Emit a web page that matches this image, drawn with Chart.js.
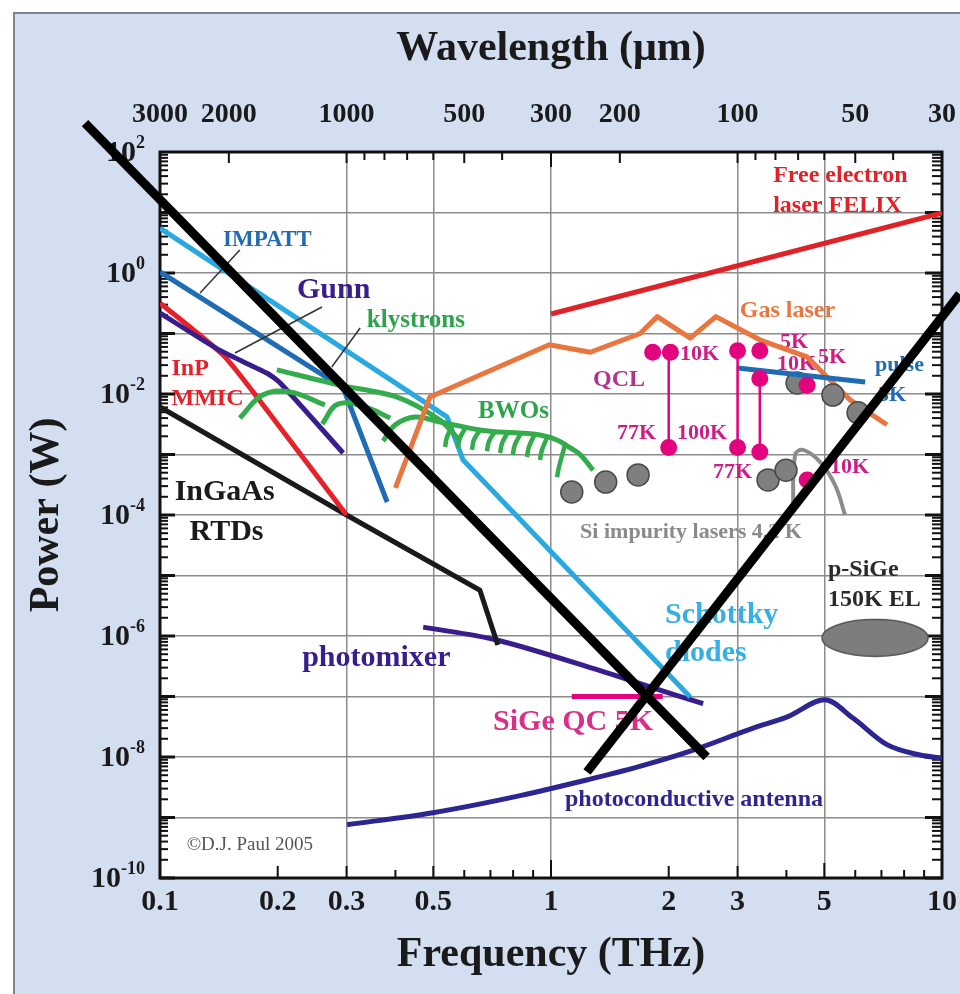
<!DOCTYPE html>
<html>
<head>
<meta charset="utf-8">
<script src="https://cdn.jsdelivr.net/npm/chart.js@4.4.0/dist/chart.umd.min.js"></script>
<style>
  html, body { margin: 0; padding: 0; background: #fff; }
  #wrap { width: 960px; height: 994px; }
</style>
</head>
<body>
<div id="wrap"><canvas id="thz" width="960" height="994"></canvas></div>
<script>
// frequency in THz, power in W
const freqTicks = [0.1, 0.2, 0.3, 0.5, 1, 2, 3, 5, 10];
const freqGrid = [0.3, 0.5, 1, 3, 5];
const waveTicks = [3000, 2000, 1000, 500, 300, 200, 100, 50, 30];
const waveMinor = [900, 800, 700, 600, 400, 90, 80, 70, 60, 40];
const powerDecades = [2, 1, 0, -1, -2, -3, -4, -5, -6, -7, -8, -9, -10];
const powerLabels = [2, 0, -2, -4, -6, -8, -10];

const schottkyF = [0.1, 0.542, 0.596, 2.27];
const schottkyP = [5.5, 0.0042, 8.1e-4, 9.8e-8];
const impattF = [0.1, 0.294, 0.381];
const impattP = [1.04, 0.0126, 1.64e-4];
const gunnF = [0.1, 0.142, 0.188, 0.203, 0.294];
const gunnP = [0.218, 0.053, 0.022, 0.0152, 1.06e-3];
const mmicF = [0.1, 0.145, 0.177, 0.3];
const mmicP = [0.32, 0.044, 0.0089, 1.0e-4];
const rtdF = [0.1, 0.3, 0.658, 0.731];
const rtdP = [0.0061, 1.0e-4, 5.7e-6, 7.1e-7];
const klystronF = [0.199, 0.289, 0.404, 0.52, 0.585];
const klystronP = [0.025, 0.014, 0.0089, 0.0037, 0.0017];

const bwoArcF = [
  [0.160, 0.183, 0.215, 0.264],
  [0.260, 0.285, 0.334, 0.388],
  [0.372, 0.399, 0.449, 0.520, 0.578, 0.658, 0.741, 0.833, 0.937, 1.036, 1.118, 1.187, 1.281]
];
const bwoArcP = [
  [0.0040, 0.0096, 0.0108, 0.0066],
  [0.0032, 0.0068, 0.0061, 0.0040],
  [0.00167, 0.00307, 0.00417, 0.00344, 0.0030, 0.00254, 0.00235, 0.00227, 0.0021, 0.00174, 0.0013, 0.0010, 0.00055]
];
const bwoHookF = [
  [0.536, 0.542, 0.562], [0.578, 0.585, 0.606], [0.628, 0.635, 0.658],
  [0.686, 0.694, 0.719], [0.741, 0.750, 0.777], [0.799, 0.808, 0.838],
  [0.868, 0.878, 0.910], [0.937, 0.948, 0.982], [1.036, 1.048, 1.086]
];
const bwoHookP = [
  [0.00133, 0.00195, 0.0031], [0.00128, 0.00188, 0.00285], [0.00119, 0.00174, 0.00254],
  [0.00113, 0.00165, 0.0024], [0.00106, 0.00155, 0.00235], [0.00098, 0.00144, 0.00227],
  [0.00091, 0.00133, 0.0022], [0.00081, 0.00119, 0.00205], [0.00042, 0.00062, 0.00144]
];

const gasF = [0.40, 0.49, 0.99, 1.26, 1.69, 1.87, 2.27, 2.64, 3.43, 4.52, 4.97, 5.82, 7.23];
const gasP = [2.8e-4, 8.9e-3, 0.065, 0.049, 0.10, 0.19, 0.084, 0.19, 0.078, 0.041, 0.022, 0.008, 0.0031];
const felixF = [1, 10];
const felixP = [0.21, 9.8];

const qclF = [1.82, 2.02, 2.0, 3.0, 3.0, 3.42, 3.42, 3.42, 4.52, 4.52];
const qclP = [0.049, 0.049, 0.0013, 0.052, 0.0013, 0.052, 0.018, 0.0011, 0.014, 3.8e-4];
const qclBarF = [2.0, 3.0, 3.42];
const qclBarTop = [0.049, 0.052, 0.018];
const qclBarBottom = [0.0013, 0.0013, 0.0011];
const pulseF = [3.0, 6.36];
const pulseP = [0.027, 0.0158];

const siDotF = [1.13, 1.38, 1.67, 3.59, 3.99, 4.26, 5.26, 6.10];
const siDotP = [2.4e-4, 3.5e-4, 4.6e-4, 3.8e-4, 5.5e-4, 0.0152, 0.0096, 0.0049];
const siArcF = [4.16, 4.21, 4.41, 4.88, 5.33, 5.65];
const siArcP = [1.08e-4, 9.8e-4, 1.19e-3, 7.5e-4, 3.1e-4, 1.0e-4];
const psigeF = [6.74];
const psigeP = [9.3e-7];

const photomixerF = [0.471, 0.727, 1.33, 1.79, 2.45];
const photomixerP = [1.4e-6, 8.6e-7, 2.7e-7, 1.44e-7, 7.6e-8];
const sigeQcF = [1.13, 1.93];
const sigeQcP = [1e-7, 1e-7];
const antennaF = [0.301, 0.499, 0.834, 1.24, 1.66, 2.23, 3.29, 4.02, 5.02, 5.92, 7.23, 8.78, 10];
const antennaP = [7.6e-10, 1.2e-9, 2.3e-9, 4.2e-9, 6.8e-9, 1.2e-8, 3.0e-8, 4.6e-8, 8.8e-8, 4.4e-8, 1.6e-8, 1.08e-8, 9.6e-9];

const pointerF = [[0.160, 0.1266], [0.2596, 0.1555], [0.325, 0.275]];
const pointerP = [[2.4, 0.467], [0.274, 0.0476], [0.123, 0.028]];
const crossF = [[0.0643, 2.5], [1.236, 11.1]];
const crossP = [[301, 1e-8], [5.65e-9, 0.45]];

const SERIF = "'Liberation Serif', 'Times New Roman', serif";

// text annotations, placed in data coordinates
const notes = [
  { t: 'IMPATT', f: 0.145, p: 3.51, c: '#1f6cb4', s: 23 },
  { t: 'Gunn', f: 0.224, p: 0.524, c: '#3a1d8c', s: 30 },
  { t: 'klystrons', f: 0.338, p: 0.161, c: '#2ea44a', s: 25 },
  { t: 'InP', f: 0.107, p: 0.0259, c: '#e62129', s: 24 },
  { t: 'MMIC', f: 0.107, p: 0.00826, c: '#e62129', s: 24 },
  { t: 'InGaAs', f: 0.109, p: 2.4e-4, c: '#1a1a1a', s: 30 },
  { t: 'RTDs', f: 0.119, p: 5.24e-5, c: '#1a1a1a', s: 30 },
  { t: 'BWOs', f: 0.651, p: 5.04e-3, c: '#2ea44a', s: 25 },
  { t: 'Gas laser', f: 3.04, p: 0.235, c: '#e9763f', s: 24 },
  { t: 'Free electron', f: 3.70, p: 40.1, c: '#df2227', s: 24 },
  { t: 'laser FELIX', f: 3.70, p: 12.8, c: '#df2227', s: 24 },
  { t: 'QCL', f: 1.281, p: 0.017, c: '#b0358c', s: 24 },
  { t: '10K', f: 2.138, p: 0.0458, c: '#cf1d86', s: 22 },
  { t: '77K', f: 1.475, p: 0.00227, c: '#cf1d86', s: 22 },
  { t: '100K', f: 2.10, p: 0.00227, c: '#cf1d86', s: 22 },
  { t: '77K', f: 2.597, p: 5.14e-4, c: '#cf1d86', s: 22 },
  { t: '5K', f: 3.852, p: 0.0724, c: '#cf1d86', s: 22 },
  { t: '10K', f: 3.785, p: 0.0313, c: '#cf1d86', s: 22 },
  { t: '5K', f: 4.819, p: 0.0409, c: '#cf1d86', s: 22 },
  { t: 'pulse', f: 6.74, p: 0.0301, c: '#1f6cb4', s: 22 },
  { t: '5K', f: 6.86, p: 0.0096, c: '#1f6cb4', s: 22 },
  { t: '10K', f: 5.17, p: 6.21e-4, c: '#cf1d86', s: 22 },
  { t: 'Si impurity lasers 4.2 K', f: 1.187, p: 5.24e-5, c: '#8a8a8a', s: 22 },
  { t: 'p-SiGe', f: 5.11, p: 1.23e-5, c: '#2a2a2a', s: 24 },
  { t: '150K EL', f: 5.11, p: 3.94e-6, c: '#2a2a2a', s: 24 },
  { t: 'Schottky', f: 1.957, p: 2.22e-6, c: '#36b0e2', s: 30 },
  { t: 'diodes', f: 1.957, p: 5.24e-7, c: '#36b0e2', s: 30 },
  { t: 'photomixer', f: 0.231, p: 4.33e-7, c: '#3a1d8c', s: 30 },
  { t: 'SiGe QC 5K', f: 0.711, p: 3.79e-8, c: '#d8308a', s: 30 },
  { t: 'photoconductive antenna', f: 1.086, p: 1.95e-9, c: '#2d2590', s: 24 },
  { t: '\u00A9D.J. Paul 2005', f: 0.117, p: 3.5e-10, c: '#555555', s: 19, w: 'normal' }
];

const pts = (fs, ps) => fs.map((f, i) => ({ x: f, y: ps[i] }));

function line(label, fs, ps, color, width, extra) {
  return Object.assign({
    label: label, data: pts(fs, ps), showLine: true, borderColor: color,
    backgroundColor: color, borderWidth: width, pointRadius: 0, tension: 0,
    borderJoinStyle: 'round'
  }, extra || {});
}

// grey ellipse used as the p-SiGe marker
const ell = document.createElement('canvas');
ell.width = 110; ell.height = 40;
const ec = ell.getContext('2d');
ec.fillStyle = '#7d7d7d'; ec.strokeStyle = '#555'; ec.lineWidth = 1.5;
ec.beginPath(); ec.ellipse(55, 20, 53, 18.5, 0, 0, Math.PI * 2); ec.fill(); ec.stroke();

const datasets = [];
datasets.push(line('photoconductive antenna', antennaF, antennaP, '#2d2590', 5, { cubicInterpolationMode: 'monotone' }));
datasets.push(line('photomixer', photomixerF, photomixerP, '#3a1d8c', 5, { tension: 0.3 }));
datasets.push(line('SiGe QC', sigeQcF, sigeQcP, '#e4037f', 5));
datasets.push(line('InGaAs RTDs', rtdF, rtdP, '#1a1a1a', 5));
datasets.push(line('InP MMIC', mmicF, mmicP, '#e62129', 5, { tension: 0.2 }));
datasets.push(line('Gunn', gunnF, gunnP, '#3a1d8c', 5, { tension: 0.2 }));
datasets.push(line('IMPATT', impattF, impattP, '#1f6cb4', 5));
datasets.push(line('Schottky', schottkyF, schottkyP, '#2aa8e0', 5));
datasets.push(line('klystrons', klystronF, klystronP, '#34ac4c', 5, { tension: 0.3 }));
bwoArcF.forEach((a, i) => datasets.push(line('BWO', a, bwoArcP[i], '#34ac4c', 5, { tension: 0.4 })));
bwoHookF.forEach((a, i) => datasets.push(line('BWO', a, bwoHookP[i], '#34ac4c', 4.5, { tension: 0.4 })));
datasets.push(line('Gas laser', gasF, gasP, '#e9763f', 5));
datasets.push(line('FELIX', felixF, felixP, '#df2227', 5));
datasets.push(line('Si arc', siArcF, siArcP, '#8c8c8c', 4, { tension: 0.4 }));
datasets.push({ label: 'Si impurity', data: pts(siDotF, siDotP), pointRadius: 11,
  pointBackgroundColor: '#7f7f7f', pointBorderColor: '#4a4a4a', pointBorderWidth: 1.5 });
datasets.push(line('pulse', pulseF, pulseP, '#1f6cb4', 5));
qclBarF.forEach((f, i) => datasets.push(line('QCL bar', [f, f], [qclBarTop[i], qclBarBottom[i]], '#e4037f', 2.5)));
datasets.push({ label: 'QCL', data: pts(qclF, qclP), pointRadius: 8.5,
  pointBackgroundColor: '#e4037f', pointBorderWidth: 0 });
datasets.push({ label: 'p-SiGe', data: pts(psigeF, psigeP), pointRadius: 5, pointStyle: ell });
pointerF.forEach((a, i) => datasets.push(line('pointer', a, pointerP[i], '#333333', 1.5)));
crossF.forEach((a, i) => datasets.push(line('cross', a, crossP[i], '#000000', 9, { clip: false, borderCapStyle: 'butt' })));
// later entries go on top
datasets.forEach((d, i) => { d.order = datasets.length - i; });

function seg(ctx, x1, y1, x2, y2) {
  ctx.beginPath(); ctx.moveTo(x1, y1); ctx.lineTo(x2, y2); ctx.stroke();
}

const decor = {
  id: 'decor',
  beforeDraw(chart) {
    const { ctx, chartArea: a, width, height } = chart;
    ctx.save();
    ctx.fillStyle = '#ffffff'; ctx.fillRect(0, 0, width, height);
    ctx.fillStyle = '#d3def0'; ctx.fillRect(13, 12, width - 13, height - 12);
    ctx.strokeStyle = '#7c848e'; ctx.lineWidth = 2;
    ctx.beginPath(); ctx.moveTo(14, height); ctx.lineTo(14, 13); ctx.lineTo(width, 13); ctx.stroke();
    ctx.fillStyle = '#ffffff'; ctx.fillRect(a.left, a.top, a.right - a.left, a.bottom - a.top);
    ctx.restore();
  },
  beforeDatasetsDraw(chart) {
    const { ctx, chartArea: a } = chart;
    const xs = chart.scales.x, x2 = chart.scales.x2, ys = chart.scales.y;
    ctx.save();
    // annotations
    ctx.textAlign = 'left'; ctx.textBaseline = 'middle';
    notes.forEach(n => {
      ctx.font = (n.w || 'bold') + ' ' + n.s + 'px ' + SERIF;
      ctx.fillStyle = n.c;
      ctx.fillText(n.t, xs.getPixelForValue(n.f), ys.getPixelForValue(n.p));
    });
    // inward ticks
    ctx.strokeStyle = '#111';
    for (let d = -10; d <= 1; d++) {
      for (let k = 1; k <= 9; k++) {
        const y = ys.getPixelForValue(k * Math.pow(10, d));
        const maj = k === 1;
        ctx.lineWidth = maj ? 3 : 2;
        seg(ctx, a.left, y, a.left + (maj ? 15 : 8), y);
        seg(ctx, a.right, y, a.right - (maj ? 17 : 10), y);
      }
    }
    [0.2, 0.3, 0.4, 0.5, 0.6, 0.7, 0.8, 0.9, 1, 2, 3, 4, 5, 6, 7, 8, 9].forEach(f => {
      const x = xs.getPixelForValue(f);
      let len = 8;
      if (freqTicks.includes(f)) len = 12;
      if (f === 1) len = 18;
      if (f === 5) len = 15;
      ctx.lineWidth = 2;
      seg(ctx, x, a.bottom, x, a.bottom - len);
    });
    waveTicks.concat(waveMinor).forEach(w => {
      if (w === 3000 || w === 30) return;
      const x = x2.getPixelForValue(w);
      const len = waveTicks.includes(w) ? (w === 300 ? 15 : 11) : 8;
      ctx.lineWidth = 2;
      seg(ctx, x, a.top, x, a.top + len);
    });
    // frame
    ctx.lineWidth = 3; ctx.strokeStyle = '#111';
    ctx.strokeRect(a.left, a.top, a.right - a.left, a.bottom - a.top);
    // power labels with superscripts
    ctx.fillStyle = '#1a1a1a'; ctx.textAlign = 'right';
    powerLabels.forEach(e => {
      const y = ys.getPixelForValue(Math.pow(10, e));
      const ex = String(e);
      ctx.font = 'bold 18px ' + SERIF; ctx.textBaseline = 'alphabetic';
      const ew = ctx.measureText(ex).width;
      ctx.fillText(ex, a.left - 15, y - 4);
      ctx.font = 'bold 30px ' + SERIF; ctx.textBaseline = 'middle';
      ctx.fillText('10', a.left - 15 - ew, y + 1);
    });
    ctx.restore();
  }
};

new Chart(document.getElementById('thz'), {
  type: 'scatter',
  data: { datasets: datasets },
  options: {
    responsive: false,
    animation: false,
    events: [],
    layout: { padding: { left: 0, right: 18, top: 0, bottom: 0 } },
    plugins: { legend: { display: false }, tooltip: { enabled: false } },
    scales: {
      x: {
        type: 'logarithmic', position: 'bottom', min: 0.1, max: 10,
        afterBuildTicks: s => { s.ticks = freqTicks.map(v => ({ value: v })); },
        afterFit: s => { s.height = 116; s.paddingLeft = 0; s.paddingRight = 0; },
        ticks: { autoSkip: false, maxRotation: 0, padding: 6, color: '#1a1a1a',
          font: { family: SERIF, size: 30, weight: 'bold' }, callback: v => String(v) },
        grid: { drawTicks: false, lineWidth: 1.5,
          color: c => (c.tick && freqGrid.includes(c.tick.value)) ? '#8c8c8c' : 'rgba(0,0,0,0)' },
        border: { display: false },
        title: { display: true, text: 'Frequency (THz)', color: '#1a1a1a',
          font: { family: SERIF, size: 42, weight: 'bold' }, padding: { top: 0, bottom: 14 } }
      },
      x2: {
        type: 'logarithmic', axis: 'x', position: 'top', display: true,
        reverse: true, min: 30, max: 3000,
        afterBuildTicks: s => { s.ticks = waveTicks.map(v => ({ value: v })); },
        afterFit: s => { s.height = 152; s.paddingLeft = 0; s.paddingRight = 0; },
        ticks: { autoSkip: false, maxRotation: 0, padding: 20, color: '#1a1a1a',
          font: { family: SERIF, size: 28, weight: 'bold' }, callback: v => String(v) },
        grid: { display: false, drawTicks: false },
        border: { display: false },
        title: { display: true, text: 'Wavelength (\u03BCm)', color: '#1a1a1a',
          font: { family: SERIF, size: 42, weight: 'bold' }, padding: { top: 24, bottom: 0 } }
      },
      y: {
        type: 'logarithmic', position: 'left', min: 1e-10, max: 100,
        afterBuildTicks: s => { s.ticks = powerDecades.map(e => ({ value: Math.pow(10, e) })); },
        afterFit: s => { s.width = 160; s.paddingTop = 0; s.paddingBottom = 0; },
        ticks: { display: false },
        grid: { drawTicks: false, color: '#8c8c8c', lineWidth: 1.5 },
        border: { display: false },
        title: { display: true, text: 'Power (W)', color: '#1a1a1a',
          font: { family: SERIF, size: 42, weight: 'bold' }, padding: { top: 22, bottom: 0 } }
      }
    }
  },
  plugins: [decor]
});
</script>
</body>
</html>
